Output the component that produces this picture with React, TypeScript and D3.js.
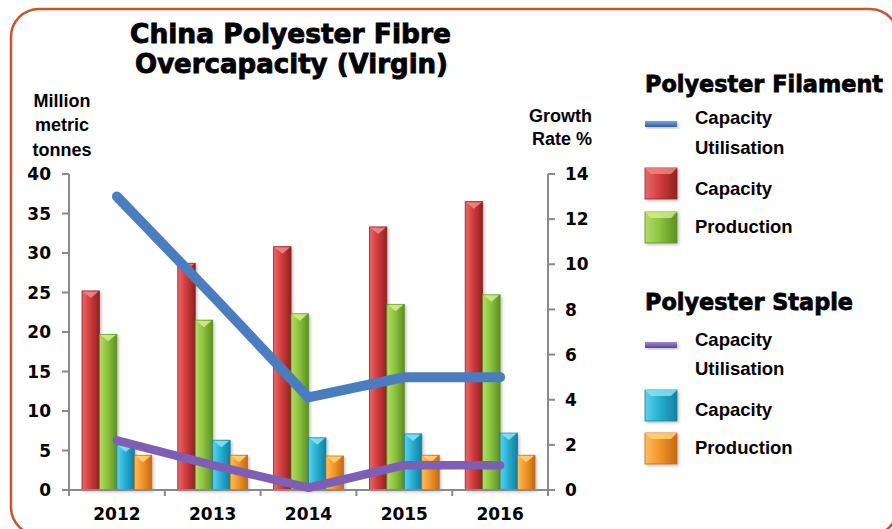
import React from "react";
import * as d3 from "d3";

const years = ["2012", "2013", "2014", "2015", "2016"];
const filamentCapacity = [25.2, 28.7, 30.8, 33.3, 36.5];
const filamentProduction = [19.7, 21.5, 22.3, 23.5, 24.7];
const stapleCapacity = [5.7, 6.3, 6.6, 7.1, 7.2];
const stapleProduction = [4.4, 4.4, 4.3, 4.4, 4.4];
const filamentUtilisation = [13.0, 8.6, 4.1, 5.0, 5.0];
const stapleUtilisation = [2.2, 1.1, 0.1, 1.1, 1.1];
const leftTicks = [0, 5, 10, 15, 20, 25, 30, 35, 40];
const rightTicks = [0, 2, 4, 6, 8, 10, 12, 14];

const barSeries = [
  { key: "fc", values: filamentCapacity, light: "#e86a6a", main: "#d23c3c", dark: "#8e2323", bevel: "#f08a8a" },
  { key: "fp", values: filamentProduction, light: "#b4dc6a", main: "#8cc43f", dark: "#5e8f23", bevel: "#d6ef86" },
  { key: "sc", values: stapleCapacity, light: "#5fd0ea", main: "#27b0d3", dark: "#157f9d", bevel: "#8ee4f5" },
  { key: "sp", values: stapleProduction, light: "#ffbd5c", main: "#f3962a", dark: "#c26a12", bevel: "#ffd77a" },
];

const TICK_FONT = "'DejaVu Sans', sans-serif";
const LABEL_FONT = "'Liberation Sans', Arial, sans-serif";

export default function App() {
  const left = 69, right = 548, top = 174, bottom = 490;
  const x0 = d3.scaleBand<string>().domain(years).range([left, right]).padding(0);
  const bw = x0.bandwidth();
  const x1 = d3.scaleBand<string>().domain(barSeries.map((s) => s.key)).range([13, bw - 13]).padding(0);
  const yL = d3.scaleLinear().domain([0, 40]).range([bottom, top]);
  const yR = d3.scaleLinear().domain([0, 14]).range([bottom, top]);
  const line = d3
    .line<number>()
    .x((_, i) => (x0(years[i]) as number) + bw / 2)
    .y((d) => yR(d));

  const axisColor = "#8a8a8a";

  const swatch = (s: typeof barSeries[number], x: number, y: number) => (
    <g key={"sw" + s.key}>
      <rect x={x} y={y} width={32} height={31} fill={`url(#g-${s.key})`} stroke={s.dark} strokeWidth={0.8} filter="url(#shadow)" />
      <polygon points={`${x},${y} ${x + 32},${y} ${x + 26},${y + 6} ${x + 6},${y + 6}`} fill={s.bevel} opacity={0.8} />
    </g>
  );

  return (
    <svg width={892} height={529} style={{ position: "absolute", left: 0, top: 0, background: "#fff" }}>
      <defs>
        {barSeries.map((s) => (
          <linearGradient key={s.key} id={`g-${s.key}`} x1="0" x2="1" y1="0" y2="0">
            <stop offset="0" stopColor={s.light} />
            <stop offset="0.45" stopColor={s.main} />
            <stop offset="1" stopColor={s.dark} />
          </linearGradient>
        ))}
        <linearGradient id="lg-blue" x1="0" x2="0" y1="0" y2="1">
          <stop offset="0" stopColor="#7aa6dc" />
          <stop offset="1" stopColor="#2f5f9e" />
        </linearGradient>
        <linearGradient id="lg-purple" x1="0" x2="0" y1="0" y2="1">
          <stop offset="0" stopColor="#a08ad0" />
          <stop offset="1" stopColor="#5a4590" />
        </linearGradient>
        <filter id="shadow" x="-30%" y="-10%" width="160%" height="130%">
          <feDropShadow dx="1.5" dy="1.5" stdDeviation="1.5" floodColor="#000" floodOpacity="0.25" />
        </filter>
      </defs>

      {/* frame */}
      <rect x={11} y={9} width={887} height={526} rx={28} ry={28} fill="none" stroke="#c8532c" strokeWidth={2.5} />

      {/* title */}
      <g fontFamily={TICK_FONT} fontWeight="bold" fontSize={27} fill="#000" stroke="#000" strokeWidth={0.9}>
        <text x={130} y={43} textLength={321} lengthAdjust="spacingAndGlyphs">China Polyester Fibre</text>
        <text x={135} y={73} textLength={313} lengthAdjust="spacingAndGlyphs">Overcapacity (Virgin)</text>
      </g>

      {/* axis titles */}
      <g fontFamily={LABEL_FONT} fontWeight="bold" fontSize={18} fill="#000">
        <text x={62} y={107} textAnchor="middle">Million</text>
        <text x={62} y={131} textAnchor="middle">metric</text>
        <text x={62} y={156} textAnchor="middle">tonnes</text>
        <text x={592} y={122} textAnchor="end">Growth</text>
        <text x={592} y={145} textAnchor="end">Rate %</text>
      </g>

      {/* bars */}
      {years.map((yr, i) => (
        <g key={yr} transform={`translate(${x0(yr)},0)`}>
          {barSeries.map((s) => {
            const bx = x1(s.key) as number;
            const w = x1.bandwidth();
            const by = yL(s.values[i]);
            const h = bottom - by;
            return (
              <g key={s.key}>
                <rect x={bx} y={by} width={w} height={h} fill={`url(#g-${s.key})`} stroke={s.dark} strokeWidth={0.8} filter="url(#shadow)" />
                <polygon points={`${bx + 1},${by + 0.5} ${bx + w - 1},${by + 0.5} ${bx + w / 2},${by + 7}`} fill={s.bevel} opacity={0.85} />
              </g>
            );
          })}
        </g>
      ))}

      {/* axes */}
      <g stroke={axisColor} strokeWidth={2} fill="none">
        <line x1={left} x2={left} y1={top} y2={bottom} />
        <line x1={right} x2={right} y1={top} y2={bottom} />
        <line x1={left - 6} x2={right + 6} y1={bottom} y2={bottom} />
        {leftTicks.map((t) => (
          <line key={"lt" + t} x1={left - 7} x2={left} y1={yL(t)} y2={yL(t)} />
        ))}
        {rightTicks.map((t) => (
          <line key={"rt" + t} x1={right} x2={right + 7} y1={yR(t)} y2={yR(t)} />
        ))}
        {years.map((yr) => (
          <line key={"xt" + yr} x1={x0(yr) as number} x2={x0(yr) as number} y1={bottom} y2={bottom + 6} />
        ))}
        <line x1={right} x2={right} y1={bottom} y2={bottom + 6} />
      </g>

      {/* tick labels */}
      <g fontFamily={TICK_FONT} fontWeight="bold" fontSize={17} fill="#000">
        {leftTicks.map((t) => (
          <text key={"ll" + t} x={51} y={yL(t)} dy="0.36em" textAnchor="end">{t}</text>
        ))}
        {rightTicks.map((t) => (
          <text key={"rl" + t} x={565} y={yR(t)} dy="0.36em" textAnchor="start">{t}</text>
        ))}
        {years.map((yr) => (
          <text key={"xl" + yr} x={(x0(yr) as number) + bw / 2} y={520} textAnchor="middle">{yr}</text>
        ))}
      </g>

      {/* lines */}
      <path d={line(filamentUtilisation) as string} fill="none" stroke="#4a7cc0" strokeWidth={10} strokeLinecap="round" strokeLinejoin="round" />
      <path d={line(stapleUtilisation) as string} fill="none" stroke="#7d5fb5" strokeWidth={8.5} strokeLinecap="round" strokeLinejoin="round" />

      {/* legend */}
      <g fontFamily={TICK_FONT} fontWeight="bold" fontSize={23} fill="#000" stroke="#000" strokeWidth={0.8}>
        <text x={645} y={92} textLength={238} lengthAdjust="spacingAndGlyphs">Polyester Filament</text>
        <text x={645} y={310} textLength={208} lengthAdjust="spacingAndGlyphs">Polyester Staple</text>
      </g>
      <rect x={645} y={121} width={32} height={6} fill="url(#lg-blue)" filter="url(#shadow)" />
      <rect x={645} y={342} width={32} height={6} fill="url(#lg-purple)" filter="url(#shadow)" />
      {swatch(barSeries[0], 645, 168)}
      {swatch(barSeries[1], 645, 212)}
      {swatch(barSeries[2], 645, 390)}
      {swatch(barSeries[3], 645, 433)}
      <g fontFamily={LABEL_FONT} fontWeight="bold" fontSize={18.5} fill="#000">
        <text x={695} y={124}>Capacity</text>
        <text x={695} y={154}>Utilisation</text>
        <text x={695} y={195}>Capacity</text>
        <text x={695} y={233}>Production</text>
        <text x={695} y={346}>Capacity</text>
        <text x={695} y={375}>Utilisation</text>
        <text x={695} y={416}>Capacity</text>
        <text x={695} y={454}>Production</text>
      </g>
    </svg>
  );
}
